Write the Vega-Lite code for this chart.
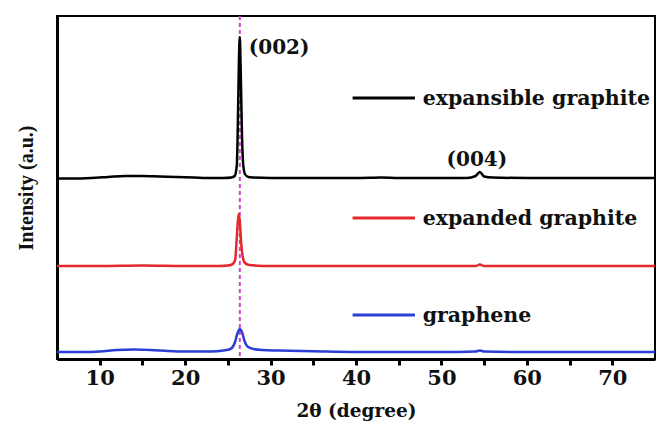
{
  "$schema": "https://vega.github.io/schema/vega-lite/v6.json",
  "width": 598,
  "height": 343,
  "autosize": "none",
  "padding": {"left": 57, "top": 16, "right": 2, "bottom": 65},
  "background": "white",
  "config": {
    "view": {"stroke": "black", "strokeWidth": 2},
    "axis": {"grid": false}
  },
  "datasets": {
    "xrd": [
      {"s": "expansible graphite", "x": 5, "y": 180.5},
      {"s": "expansible graphite", "x": 7, "y": 180.5},
      {"s": "expansible graphite", "x": 9, "y": 181},
      {"s": "expansible graphite", "x": 11, "y": 182},
      {"s": "expansible graphite", "x": 13, "y": 183},
      {"s": "expansible graphite", "x": 15, "y": 183},
      {"s": "expansible graphite", "x": 17, "y": 182.5},
      {"s": "expansible graphite", "x": 19, "y": 182},
      {"s": "expansible graphite", "x": 21, "y": 181.5},
      {"s": "expansible graphite", "x": 23, "y": 181},
      {"s": "expansible graphite", "x": 24.5, "y": 181},
      {"s": "expansible graphite", "x": 25.4, "y": 181.5},
      {"s": "expansible graphite", "x": 25.8, "y": 183},
      {"s": "expansible graphite", "x": 26.05, "y": 194},
      {"s": "expansible graphite", "x": 26.2, "y": 250},
      {"s": "expansible graphite", "x": 26.3, "y": 300},
      {"s": "expansible graphite", "x": 26.4, "y": 322},
      {"s": "expansible graphite", "x": 26.5, "y": 290},
      {"s": "expansible graphite", "x": 26.65, "y": 225},
      {"s": "expansible graphite", "x": 26.8, "y": 194},
      {"s": "expansible graphite", "x": 27.0, "y": 185},
      {"s": "expansible graphite", "x": 27.4, "y": 182},
      {"s": "expansible graphite", "x": 28, "y": 181.5},
      {"s": "expansible graphite", "x": 30, "y": 181},
      {"s": "expansible graphite", "x": 35, "y": 181},
      {"s": "expansible graphite", "x": 40, "y": 181},
      {"s": "expansible graphite", "x": 43, "y": 181.5},
      {"s": "expansible graphite", "x": 45, "y": 181},
      {"s": "expansible graphite", "x": 50, "y": 181},
      {"s": "expansible graphite", "x": 53, "y": 181},
      {"s": "expansible graphite", "x": 54, "y": 183},
      {"s": "expansible graphite", "x": 54.5, "y": 187},
      {"s": "expansible graphite", "x": 55, "y": 182.5},
      {"s": "expansible graphite", "x": 56, "y": 181.5},
      {"s": "expansible graphite", "x": 60, "y": 181},
      {"s": "expansible graphite", "x": 65, "y": 181},
      {"s": "expansible graphite", "x": 70, "y": 181},
      {"s": "expansible graphite", "x": 75, "y": 181},

      {"s": "expanded graphite", "x": 5, "y": 93},
      {"s": "expanded graphite", "x": 10, "y": 93},
      {"s": "expanded graphite", "x": 15, "y": 93.5},
      {"s": "expanded graphite", "x": 20, "y": 93},
      {"s": "expanded graphite", "x": 24, "y": 93},
      {"s": "expanded graphite", "x": 25, "y": 93.5},
      {"s": "expanded graphite", "x": 25.5, "y": 94.5},
      {"s": "expanded graphite", "x": 25.85, "y": 99},
      {"s": "expanded graphite", "x": 26.05, "y": 122},
      {"s": "expanded graphite", "x": 26.25, "y": 145},
      {"s": "expanded graphite", "x": 26.4, "y": 138},
      {"s": "expanded graphite", "x": 26.55, "y": 117},
      {"s": "expanded graphite", "x": 26.75, "y": 102},
      {"s": "expanded graphite", "x": 27, "y": 96},
      {"s": "expanded graphite", "x": 27.5, "y": 94},
      {"s": "expanded graphite", "x": 28.5, "y": 93.3},
      {"s": "expanded graphite", "x": 30, "y": 93},
      {"s": "expanded graphite", "x": 40, "y": 93},
      {"s": "expanded graphite", "x": 50, "y": 93},
      {"s": "expanded graphite", "x": 54, "y": 93},
      {"s": "expanded graphite", "x": 54.5, "y": 94.5},
      {"s": "expanded graphite", "x": 55, "y": 93},
      {"s": "expanded graphite", "x": 60, "y": 93},
      {"s": "expanded graphite", "x": 70, "y": 93},
      {"s": "expanded graphite", "x": 75, "y": 93},

      {"s": "graphene", "x": 5, "y": 7},
      {"s": "graphene", "x": 8, "y": 7},
      {"s": "graphene", "x": 10, "y": 7.5},
      {"s": "graphene", "x": 12, "y": 9},
      {"s": "graphene", "x": 14, "y": 9.5},
      {"s": "graphene", "x": 16, "y": 9},
      {"s": "graphene", "x": 18, "y": 8},
      {"s": "graphene", "x": 20, "y": 7.5},
      {"s": "graphene", "x": 23, "y": 7.5},
      {"s": "graphene", "x": 24.5, "y": 8.5},
      {"s": "graphene", "x": 25.3, "y": 10},
      {"s": "graphene", "x": 25.8, "y": 16},
      {"s": "graphene", "x": 26.1, "y": 25},
      {"s": "graphene", "x": 26.4, "y": 30},
      {"s": "graphene", "x": 26.65, "y": 27},
      {"s": "graphene", "x": 26.95, "y": 18},
      {"s": "graphene", "x": 27.3, "y": 12.5},
      {"s": "graphene", "x": 28, "y": 10},
      {"s": "graphene", "x": 29, "y": 9},
      {"s": "graphene", "x": 31, "y": 8.5},
      {"s": "graphene", "x": 35, "y": 7.8},
      {"s": "graphene", "x": 40, "y": 7},
      {"s": "graphene", "x": 50, "y": 7},
      {"s": "graphene", "x": 54, "y": 7.5},
      {"s": "graphene", "x": 54.5, "y": 8.5},
      {"s": "graphene", "x": 55, "y": 7.5},
      {"s": "graphene", "x": 60, "y": 7},
      {"s": "graphene", "x": 70, "y": 7},
      {"s": "graphene", "x": 75, "y": 7}
    ],
    "legend": [
      {"s": "expansible graphite", "x1": 39.6, "x2": 46.9, "y": 261, "tx": 47.8},
      {"s": "expanded graphite", "x1": 39.6, "x2": 46.9, "y": 141, "tx": 47.8},
      {"s": "graphene", "x1": 39.6, "x2": 46.9, "y": 44, "tx": 47.8}
    ],
    "peaks": [
      {"label": "(002)", "x": 27.45, "y": 311},
      {"label": "(004)", "x": 50.6, "y": 199}
    ],
    "ref": [{"x": 26.4}]
  },
  "layer": [
    {
      "data": {"name": "ref"},
      "mark": {"type": "rule", "color": "#d43fd4", "strokeWidth": 2, "strokeDash": [4, 3]},
      "encoding": {
        "x": {"field": "x", "type": "quantitative", "scale": {"domain": [5, 75]}}
      }
    },
    {
      "data": {"name": "xrd"},
      "mark": {"type": "line", "strokeWidth": 2.5, "interpolate": "monotone", "clip": true},
      "encoding": {
        "x": {
          "field": "x", "type": "quantitative",
          "scale": {"domain": [5, 75], "nice": false, "zero": false},
          "axis": {
            "title": "2θ (degree)",
            "values": [10, 15, 20, 25, 30, 35, 40, 45, 50, 55, 60, 65, 70],
            "labelExpr": "datum.value % 10 === 0 ? datum.label : ''",
            "domainColor": "black", "domainWidth": 3,
            "tickColor": "black", "tickWidth": 3, "tickSize": 6,
            "labelFont": "DejaVu Serif", "labelFontWeight": "bold", "labelFontSize": 21, "labelColor": "#111",
            "labelPadding": 2,
            "titleFont": "DejaVu Serif", "titleFontWeight": "bold", "titleFontSize": 18.5, "titleColor": "#111",
            "titlePadding": 13
          }
        },
        "y": {
          "field": "y", "type": "quantitative",
          "scale": {"domain": [0, 343], "nice": false},
          "axis": {
            "title": "Intensity (a.u.)",
            "ticks": false, "labels": false,
            "domainColor": "black", "domainWidth": 3,
            "titleFont": "Liberation Serif", "titleFontWeight": "bold", "titleFontSize": 20, "titleColor": "#111",
            "titlePadding": 21
          }
        },
        "color": {
          "field": "s", "type": "nominal",
          "scale": {"domain": ["expansible graphite", "expanded graphite", "graphene"], "range": ["#000000", "#e4292d", "#2b3fd4"]},
          "legend": null
        },
        "detail": {"field": "s"}
      }
    },
    {
      "data": {"name": "legend"},
      "mark": {"type": "rule", "strokeWidth": 3},
      "encoding": {
        "x": {"field": "x1", "type": "quantitative"},
        "x2": {"field": "x2"},
        "y": {"field": "y", "type": "quantitative"},
        "color": {"field": "s", "type": "nominal", "legend": null}
      }
    },
    {
      "data": {"name": "legend"},
      "mark": {"type": "text", "align": "left", "baseline": "middle", "font": "DejaVu Serif", "fontWeight": "bold", "fontSize": 20.5, "color": "#111", "dy": 1},
      "encoding": {
        "x": {"field": "tx", "type": "quantitative"},
        "y": {"field": "y", "type": "quantitative"},
        "text": {"field": "s"}
      }
    },
    {
      "data": {"name": "peaks"},
      "mark": {"type": "text", "align": "left", "baseline": "middle", "font": "DejaVu Serif", "fontWeight": "bold", "fontSize": 20, "color": "#111"},
      "encoding": {
        "x": {"field": "x", "type": "quantitative"},
        "y": {"field": "y", "type": "quantitative"},
        "text": {"field": "label"}
      }
    }
  ]
}
